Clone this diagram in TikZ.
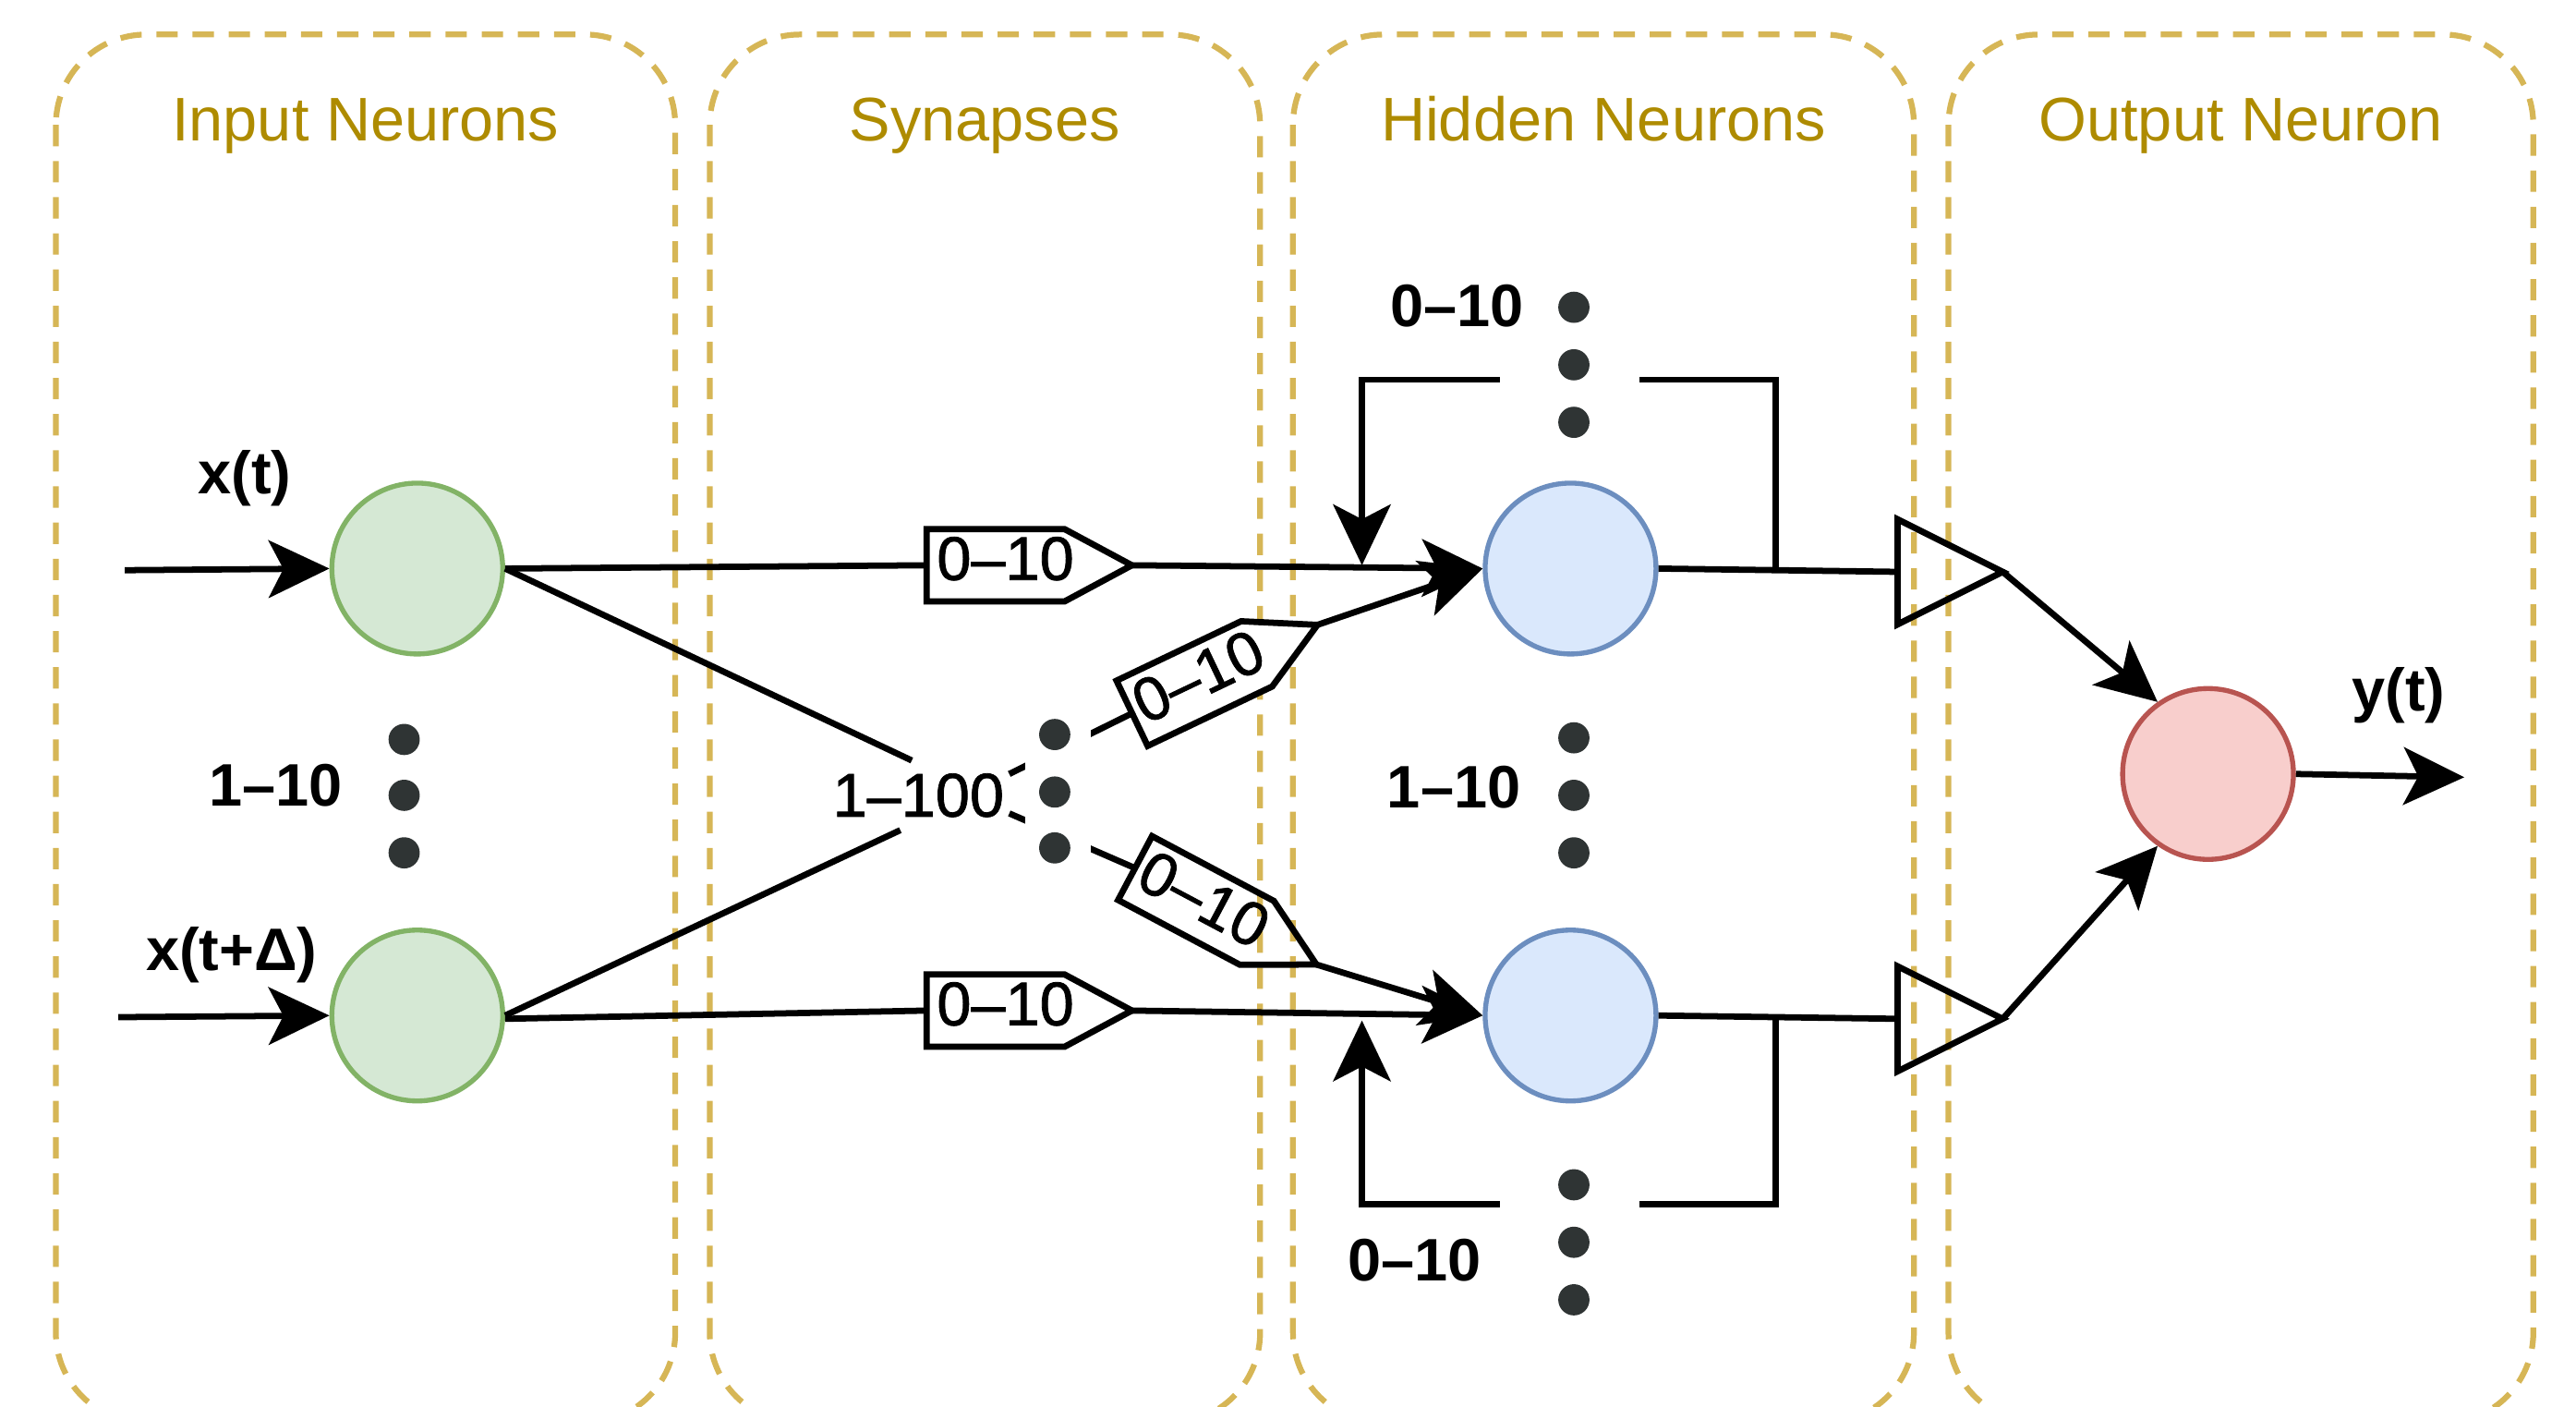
\documentclass[tikz,border=0pt]{standalone}
\usepackage{fontspec}
\setmainfont{Liberation Sans}
\newfontfamily\medfont[FakeBold=1.2]{Liberation Sans}
\usetikzlibrary{arrows.meta}
\definecolor{boxc}{HTML}{D6B656}
\definecolor{titlec}{HTML}{AE8B00}
\definecolor{gfill}{HTML}{D5E8D4}
\definecolor{gline}{HTML}{82B366}
\definecolor{bfill}{HTML}{DAE8FC}
\definecolor{bline}{HTML}{6C8EBF}
\definecolor{rfill}{HTML}{F8CECC}
\definecolor{rline}{HTML}{B85450}
\definecolor{dotc}{HTML}{2F3434}
\begin{document}
\begin{tikzpicture}[x=1pt,y=-1pt,
  region/.style={draw=boxc, line width=3.5pt, dash pattern=on 13pt off 9pt, rounded corners=55pt},
  title/.style={text=titlec, font=\fontsize{37.5}{40}\selectfont, inner sep=0pt, anchor=base},
  neuron/.style={circle, minimum size=104pt, inner sep=0pt, line width=3pt},
  wire/.style={line width=3.8pt, black},
  arr/.style={wire, -{Stealth[length=37pt,width=35pt,inset=9pt]}},
  lbl/.style={font=\bfseries\fontsize{36.5}{40}\selectfont, inner sep=0pt},
  num/.style={font=\medfont\fontsize{37.5}{40}\selectfont, inner sep=0pt},
  dotn/.style={circle, fill=dotc, minimum size=19pt, inner sep=0pt},
]
\useasboundingbox (0,0) rectangle (1568,856);

% regions
\begin{scope}
\clip (0,0) rectangle (1568,856);
\draw[region] (34,21) rectangle (411,866);
\draw[region] (432,21) rectangle (767,866);
\draw[region] (787,21) rectangle (1165,866);
\draw[region] (1186,21) rectangle (1542,866);
\end{scope}
\node[title] (t1) at (222.5,86) {Input Neurons};
\node[title] (t2) at (599.5,86) {Synapses};
\node[title] (t3) at (976,86) {Hidden Neurons};
\node[title] (t4) at (1364,86) {Output Neuron};

% neurons
\node[neuron, draw=gline, fill=gfill] (g1) at (254,346) {};
\node[neuron, draw=gline, fill=gfill] (g2) at (254,618) {};
\node[neuron, draw=bline, fill=bfill] (b1) at (956,346) {};
\node[neuron, draw=bline, fill=bfill] (b2) at (956,618) {};
\node[neuron, draw=rline, fill=rfill] (r) at (1344,471) {};

% input arrows
\coordinate (in1) at (76,347);
\coordinate (in2) at (72,619);
\draw[arr] (in1) -- (g1.west);
\draw[arr] (in2) -- (g2.west);
\node[lbl] (lx1) at (149,291) {x(t)};
\node[lbl] (lx2) at (141,581) {x(t+Δ)};
\node[lbl] (lin) at (168,478) {1–10};

% synapse label
\node[num, fill=white, inner xsep=3pt, minimum height=42pt] (syn) at (559,484) {1–100};
\draw[wire] (g1.east) -- ([xshift=-4pt]syn.north);
\draw[wire] (g2.east) -- ([xshift=-11pt]syn.south);

% straight tags
\begin{scope}[shift={(606,344)}]
  \draw[wire, fill=white] (-42,-22) -- (42,-22) -- (83,0) -- (42,22) -- (-42,22) -- cycle;
  \coordinate (ta1b) at (-42,0);
  \coordinate (ta1t) at (83,0);
  \node[num] (ta1l) at (6,-4) {0–10};
\end{scope}
\begin{scope}[shift={(606,615)}]
  \draw[wire, fill=white] (-42,-22) -- (42,-22) -- (83,0) -- (42,22) -- (-42,22) -- cycle;
  \coordinate (ta2b) at (-42,0);
  \coordinate (ta2t) at (83,0);
  \node[num] (ta2l) at (6,-4) {0–10};
\end{scope}
\draw[wire] (g1.east) -- (ta1b);
\draw[wire] ([yshift=-2pt]g2.east) -- (ta2b);
\draw[arr] (ta1t) -- (b1.west);
\draw[arr] (ta2t) -- (b2.west);

% diagonal tags
\begin{scope}[shift={(727,416)}, rotate=25.5]
  \draw[wire, fill=white] (-42,-22) -- (42,-22) -- (83,0) -- (42,22) -- (-42,22) -- cycle;
  \coordinate (ta3b) at (-42,0);
  \coordinate (ta3t) at (83,0);
  \node[num, transform shape] (ta3l) at (4,-3) {0–10};
\end{scope}
\begin{scope}[shift={(728,548)}, rotate=-28]
  \draw[wire] (-42,-22) -- (42,-22) -- (83,0) -- (42,22) -- (-42,22) -- cycle;
  \coordinate (ta4b) at (-42,0);
  \coordinate (ta4t) at (83,0);
  \node[num, transform shape] (ta4l) at (4,-3) {0–10};
\end{scope}
\draw[wire] ([yshift=13pt]syn.east) -- (ta3b);
\draw[wire] ([yshift=-11pt]syn.east) -- (ta4b);
\draw[arr] (ta3t) -- (b1.west);
\draw[arr] (ta4t) -- (b2.west);
\fill[white] (624,432) rectangle (664,532);

% dots
\foreach \n/\x/\y in {i1/246/450, i2/246/484, i3/246/519,
                      s1/642/447, s2/642/482, s3/642/516,
                      h1/958/449, h2/958/484, h3/958/519,
                      u1/958/187, u2/958/222, u3/958/257,
                      l1/958/721, l2/958/756, l3/958/791}
  \node[dotn] (dot\n) at (\x,\y) {};

\node[lbl] (lhid) at (885,479) {1–10};
\node[lbl] (ltop) at (887,186) {0–10};
\node[lbl] (lbot) at (861,767) {0–10};

% feedback loops
\coordinate (fa1) at (1081,346);
\coordinate (fa2) at (1081,231);
\coordinate (fa3) at (998,231);
\coordinate (fa4) at (913,231);
\coordinate (fa5) at (829,231);
\coordinate (fa6) at (829,344);
\draw[wire] (fa1) -- (fa2) -- (fa3);
\draw[arr] (fa4) -- (fa5) -- (fa6);
\coordinate (fb1) at (1081,620);
\coordinate (fb2) at (1081,733);
\coordinate (fb3) at (998,733);
\coordinate (fb4) at (913,733);
\coordinate (fb5) at (829,733);
\coordinate (fb6) at (829,621);
\draw[wire] (fb1) -- (fb2) -- (fb3);
\draw[arr] (fb4) -- (fb5) -- (fb6);

% output triangles
\coordinate (tr1a) at (1155,316);
\coordinate (tr1b) at (1155,380);
\coordinate (tr1c) at (1219,348);
\coordinate (tr1l) at (1155,348);
\coordinate (tr2a) at (1155,588);
\coordinate (tr2b) at (1155,652);
\coordinate (tr2c) at (1219,620);
\coordinate (tr2l) at (1155,620);
\draw[wire, line join=miter] (tr1a) -- (tr1c) -- (tr1b) -- cycle;
\draw[wire, line join=miter] (tr2a) -- (tr2c) -- (tr2b) -- cycle;
\draw[wire] (b1.east) -- (tr1l);
\draw[wire] (b2.east) -- (tr2l);
\draw[arr] (tr1c) -- (r.125);
\draw[arr] (tr2c) -- (r.235);

% output
\coordinate (yout) at (1500,473);
\draw[arr] (r.east) -- (yout);
\node[lbl] (ly) at (1460,423) {y(t)};
\end{tikzpicture}
\end{document}
